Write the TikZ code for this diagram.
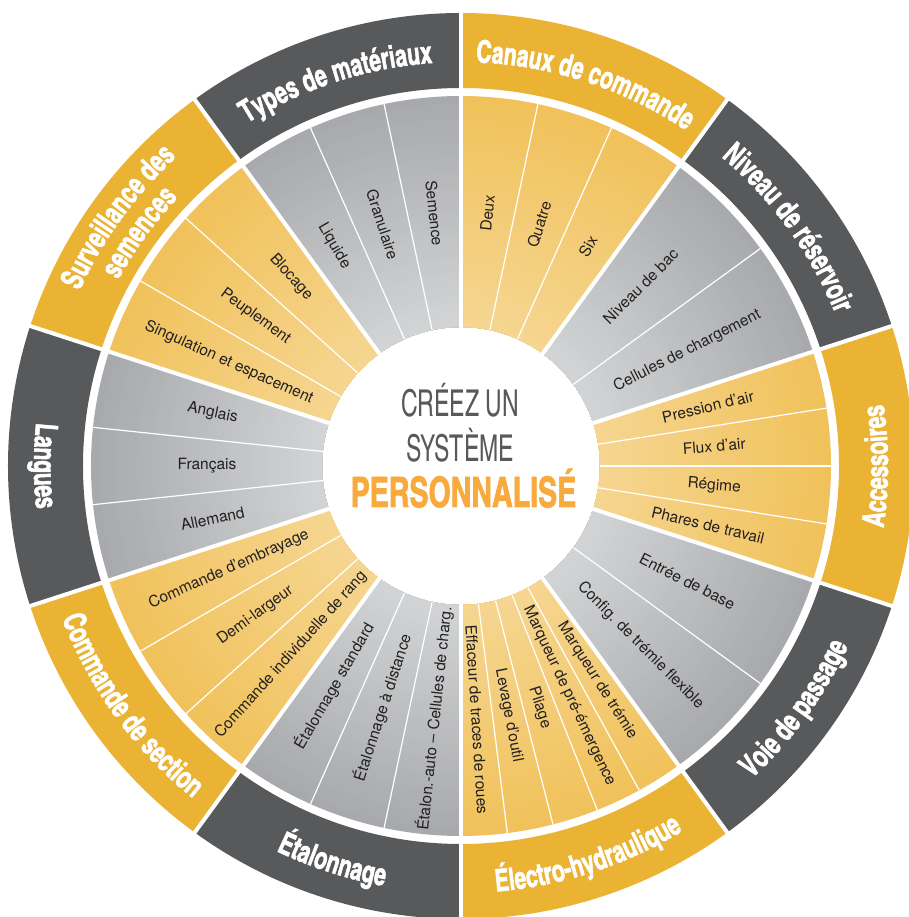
\documentclass[tikz,border=0pt]{standalone}
\usepackage{fontspec}
\setmainfont{TeX Gyre Heros}
\newfontfamily\ringfont{texgyreheroscn}[Extension=.otf, UprightFont=*-bold, FakeStretch=0.83, FakeBold=1.6]
\newfontfamily\hubfont{texgyreheroscn}[Extension=.otf, UprightFont=*-regular, FakeStretch=0.76]
\newfontfamily\hubboldfont{texgyreheroscn}[Extension=.otf, UprightFont=*-bold, FakeStretch=0.83, FakeBold=1.6]
\usetikzlibrary{decorations.text}
\usepackage{xcolor}

\definecolor{darkring}{HTML}{58595B}
\definecolor{goldring}{HTML}{EAB334}
\definecolor{ingray}{HTML}{D1D3D4}
\definecolor{outgray}{HTML}{A7A9AC}
\definecolor{inyellow}{HTML}{F5D590}
\definecolor{outyellow}{HTML}{F1C25B}
\definecolor{hubgray}{HTML}{58595B}
\definecolor{huborange}{HTML}{F8AA3C}
\definecolor{labelblack}{HTML}{231F20}

\tikzset{
  item/.style={font=\fontsize{15.5}{16}\selectfont, text=labelblack, inner sep=0pt},
  thinsep/.style={draw=white, line width=1.2},
  thicksep/.style={draw=white, line width=4},
  ringtitle/.style={decorate, decoration={text along path, text align=center, text color=white,
      text={|\ringfont\fontsize{31}{31}\selectfont|#1}}},
}

% shaded wedge: start angle, end angle, inner colour, outer colour
\newcommand{\wedgefill}[4]{%
  \foreach \k in {0,...,29}{%
    \pgfmathsetmacro{\rr}{370-\k*231/30}%
    \pgfmathtruncatemacro{\pp}{100-\k*100/29}%
    \fill[#4!\pp!#3] (#1:139) arc[start angle=#1, end angle=#2, radius=139]
      -- (#2:\rr) arc[start angle=#2, end angle=#1, radius=\rr] -- cycle;
  }}

\begin{document}
\begin{tikzpicture}[x=1pt, y=1pt]
    \useasboundingbox[fill=white] (-461,-451) rectangle (447,466);

    % Sectors
    \foreach \a/\tone/\ringcol in {54/yellow/goldring, 18/gray/darkring, -18/yellow/goldring,
        -54/gray/darkring, -90/yellow/goldring, -126/gray/darkring, -162/yellow/goldring,
        162/gray/darkring, 126/yellow/goldring, 90/gray/darkring}{
      \pgfmathsetmacro{\aend}{\a+36}
      \wedgefill{\a}{\aend}{in\tone}{out\tone}
      \fill[\ringcol] (\a:378) arc[start angle=\a, end angle=\aend, radius=378]
        -- (\aend:453) arc[start angle=\aend, end angle=\a, radius=453] -- cycle;
    }

    % Separators
    \foreach \a in {66,78,36,-9,0,9,-36,-82.8,-75.6,-68.4,-61.2,-114,-102,-150,-138,174,186,138,150,102,114}
      \draw[thinsep] (\a:139) -- (\a:370);
    \foreach \a in {90,54,...,-234}
      \draw[thicksep] (\a:120) -- (\a:470);

    % Ring titles
    \path[ringtitle={Types de matériaux}] (126:404) arc[start angle=126, end angle=90, radius=404];
    \path[ringtitle={Canaux de commande}] (90:404) arc[start angle=90, end angle=54, radius=404];
    \path[ringtitle={Niveau de réservoir}] (54:404) arc[start angle=54, end angle=18, radius=404];
    \path[ringtitle={Accessoires}] (-18:427) arc[start angle=-18, end angle=18, radius=427];
    \path[ringtitle={Voie de passage}] (-54:427) arc[start angle=-54, end angle=-18, radius=427];
    \path[ringtitle={Électro-hydraulique}] (-90:427) arc[start angle=-90, end angle=-54, radius=427];
    \path[ringtitle={Étalonnage}] (-126:427) arc[start angle=-126, end angle=-90, radius=427];
    \path[ringtitle={Commande de section}] (-162:427) arc[start angle=-162, end angle=-126, radius=427];
    \path[ringtitle={Langues}] (162:427) arc[start angle=162, end angle=198, radius=427];
    \path[ringtitle={Surveillance des}] (162:420) arc[start angle=162, end angle=126, radius=420];
    \path[ringtitle={semences}] (162:390) arc[start angle=162, end angle=126, radius=390];

    % Items
    \node[item, rotate=84] (deux) at (84:254) {Deux};
    \node[item, rotate=72] (quatre) at (72:254) {Quatre};
    \node[item, rotate=60] (six) at (60:254) {Six};
    \node[item, rotate=45] (bac) at (45:254) {Niveau de bac};
    \node[item, rotate=27] (cellules) at (27:254) {Cellules de chargement};
    \node[item, rotate=13.5] (pression) at (13.5:254) {Pression d’air};
    \node[item, rotate=4.5] (flux) at (4.5:254) {Flux d’air};
    \node[item, rotate=-4.5] (regime) at (-4.5:254) {Régime};
    \node[item, rotate=-13.5] (phares) at (-13.5:254) {Phares de travail};
    \node[item, rotate=-27] (entree) at (-27:254) {Entrée de base};
    \node[item, rotate=-45] (config) at (-45:254) {Config. de trémie flexible};
    \node[item, rotate=-57.6] (mtremie) at (-57.6:254) {Marqueur de trémie};
    \node[item, rotate=-64.8] (mpre) at (-64.8:254) {Marqueur de pré-émergence};
    \node[item, rotate=-72] (pliage) at (-72:254) {Pliage};
    \node[item, rotate=-79.2] (levage) at (-79.2:254) {Levage d’outil};
    \node[item, rotate=-86.4] (effaceur) at (-86.4:254) {Effaceur de traces de roues};
    \node[item, rotate=84] (autocal) at (-96:254) {Étalon.-auto – Cellules de charg.};
    \node[item, rotate=72] (distance) at (-108:254) {Étalonnage à distance};
    \node[item, rotate=60] (standard) at (-120:254) {Étalonnage standard};
    \node[item, rotate=48] (rang) at (-132:254) {Commande individuelle de rang};
    \node[item, rotate=36] (demi) at (-144:254) {Demi-largeur};
    \node[item, rotate=24] (embrayage) at (-156:254) {Commande d’embrayage};
    \node[item, rotate=12] (allemand) at (192:254) {Allemand};
    \node[item, rotate=0] (francais) at (180:254) {Français};
    \node[item, rotate=-12] (anglais) at (168:254) {Anglais};
    \node[item, rotate=-24] (singulation) at (156:254) {Singulation et espacement};
    \node[item, rotate=-36] (peuplement) at (144:254) {Peuplement};
    \node[item, rotate=-48] (blocage) at (132:254) {Blocage};
    \node[item, rotate=-60] (liquide) at (120:254) {Liquide};
    \node[item, rotate=-72] (granulaire) at (108:254) {Granulaire};
    \node[item, rotate=-84] (semence) at (96:254) {Semence};

    % Hub
    \node[anchor=base, inner sep=0pt, text=hubgray, font=\hubfont\fontsize{37}{37}\selectfont] (creez) at (-1,49) {CRÉEZ UN};
    \node[anchor=base, inner sep=0pt, text=hubgray, font=\hubfont\fontsize{37}{37}\selectfont] (systeme) at (-1,4) {SYSTÈME};
    \node[anchor=base, inner sep=0pt, text=huborange, font=\hubboldfont\fontsize{42}{42}\selectfont] (perso) at (2.5,-41) {PERSONNALISÉ};

\end{tikzpicture}
\end{document}
